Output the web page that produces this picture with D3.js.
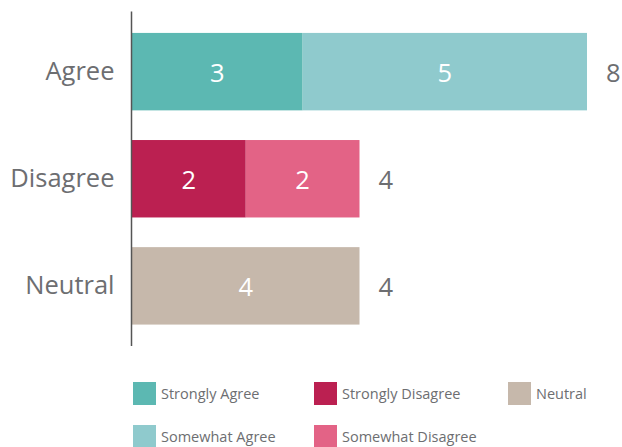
<!DOCTYPE html>
<html><head><meta charset="utf-8">
<script src="https://cdn.jsdelivr.net/npm/d3@7"></script>
<style>body{margin:0;background:#fff}svg{display:block}text{font-family:"Open Sans",sans-serif}</style>
</head><body><svg id="c" width="622" height="447"></svg>
<script>
const categories = ["Agree", "Disagree", "Neutral"];
const seriesNames = ["Strongly Agree", "Somewhat Agree", "Strongly Disagree", "Somewhat Disagree", "Neutral"];
const strongValues   = [3, 2, 4];   // first segment per category
const somewhatValues = [5, 2, 0];   // second segment per category
const firstSeries  = ["Strongly Agree", "Strongly Disagree", "Neutral"];
const secondSeries = ["Somewhat Agree", "Somewhat Disagree", null];
const colors = ["#5cb8b2", "#8fcacd", "#bb2051", "#e36386", "#c6b8ab"];

const svg = d3.select("#c");
const x = d3.scaleLinear().domain([0, 8]).range([132, 587]);
const y = d3.scaleBand().domain(categories).range([11.5, 346]).paddingInner(0.277).paddingOuter(0.2);
const color = d3.scaleOrdinal().domain(seriesNames).range(colors);
const gray = "#6d6e71";
const fs = 25.5;

const rows = categories.map((c, i) => ({
  cat: c,
  segs: [
    {name: firstSeries[i], x0: 0, x1: strongValues[i], v: strongValues[i]},
    {name: secondSeries[i], x0: strongValues[i], x1: strongValues[i] + somewhatValues[i], v: somewhatValues[i]}
  ].filter(s => s.name && s.v > 0),
  total: strongValues[i] + somewhatValues[i]
}));

const g = svg.append("g");
rows.forEach(r => {
  r.segs.forEach(s => {
    g.append("rect").attr("x", x(s.x0)).attr("y", y(r.cat))
      .attr("width", x(s.x1) - x(s.x0)).attr("height", y.bandwidth())
      .attr("fill", color(s.name));
    g.append("text").attr("x", (x(s.x0) + x(s.x1)) / 2).attr("y", y(r.cat) + y.bandwidth() / 2)
      .attr("text-anchor", "middle").attr("dominant-baseline", "central")
      .attr("fill", "#fff").attr("font-size", fs).text(s.v);
  });
  g.append("text").attr("x", x(r.total) + 19).attr("y", y(r.cat) + y.bandwidth() / 2)
    .attr("text-anchor", "start").attr("dominant-baseline", "central")
    .attr("fill", gray).attr("font-size", fs).text(r.total);
});

// y axis
const ax = svg.append("g").attr("transform", "translate(131.5,0)")
  .call(d3.axisLeft(y).tickSize(0).tickPadding(17));
ax.select(".domain").attr("stroke", "#555").attr("stroke-width", 1.5).attr("d", "M0,11.5V346");
ax.selectAll("text").attr("font-size", fs).attr("fill", gray).attr("font-family", "'Open Sans',sans-serif");

// legend
const legendItems = [
  {name: "Strongly Agree", cx: 133, cy: 382},
  {name: "Strongly Disagree", cx: 314, cy: 382},
  {name: "Neutral", cx: 508, cy: 382},
  {name: "Somewhat Agree", cx: 133, cy: 425},
  {name: "Somewhat Disagree", cx: 314, cy: 425}
];
const lg = svg.append("g");
legendItems.forEach(d => {
  lg.append("rect").attr("x", d.cx).attr("y", d.cy).attr("width", 23).attr("height", 23).attr("fill", color(d.name));
  lg.append("text").attr("x", d.cx + 28).attr("y", d.cy + 11.5).attr("dominant-baseline", "central")
    .attr("fill", gray).attr("font-size", 14.5).text(d.name);
});
</script></body></html>
